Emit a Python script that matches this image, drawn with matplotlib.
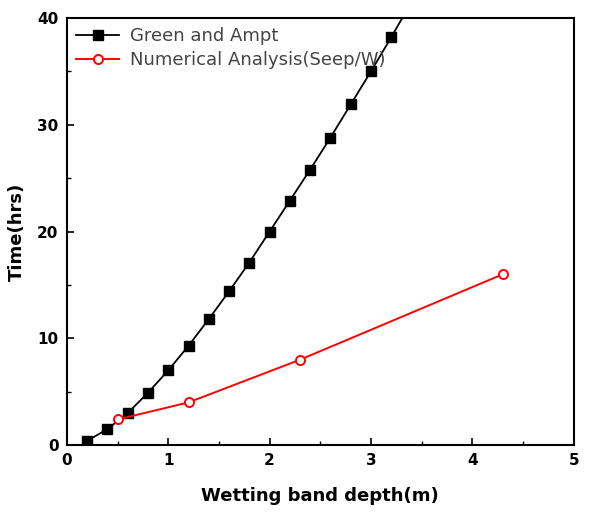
# Wetting band depth vs time: Green and Ampt vs Seep/W.

import matplotlib
matplotlib.use("Agg")
from matplotlib import pyplot as plt
from matplotlib.ticker import MultipleLocator

ga_depth = [0.2, 0.4, 0.6, 0.8, 1.0, 1.2, 1.4, 1.6, 1.8, 2.0, 2.2, 2.4, 2.6, 2.8, 3.0, 3.2, 3.4]
ga_time = [0.4, 1.5, 3.0, 4.9, 7.0, 9.3, 11.8, 14.4, 17.1, 20.0, 22.9, 25.8, 28.8, 31.9, 35.0, 38.2, 41.5]

num_depth = [0.5, 1.2, 2.3, 4.3]
num_time = [2.4, 4.0, 8.0, 16.0]

fig = plt.figure(figsize=(5.97, 5.14), dpi=100)
ax = fig.add_axes([0.112, 0.134, 0.849, 0.831])

ax.plot(ga_depth, ga_time, color="black", lw=1.3, marker="s", ms=6.5,
        label="Green and Ampt")
ax.plot(num_depth, num_time, color="red", lw=1.4, marker="o", ms=6.5,
        mfc="white", mec="red", mew=1.4, label="Numerical Analysis(Seep/W)")

ax.set_xlim(0, 5)
ax.set_ylim(0, 40)
ax.xaxis.set_major_locator(MultipleLocator(1))
ax.xaxis.set_minor_locator(MultipleLocator(0.5))
ax.yaxis.set_major_locator(MultipleLocator(10))
ax.yaxis.set_minor_locator(MultipleLocator(5))
ax.tick_params(which="both", direction="in", top=False, right=False)
ax.tick_params(which="major", length=5, width=1.2, pad=6)
ax.tick_params(which="minor", length=3, width=1.0)
for lab in ax.get_xticklabels() + ax.get_yticklabels():
    lab.set_fontweight("bold")
    lab.set_fontsize(11)
for s in ax.spines.values():
    s.set_linewidth(1.5)

ax.set_xlabel("Wetting band depth(m)", fontsize=13, fontweight="bold", labelpad=13)
ax.set_ylabel("Time(hrs)", fontsize=13, fontweight="bold", labelpad=8)

leg = ax.legend(loc="upper left", frameon=False, fontsize=13, handlelength=2.4,
                borderaxespad=0.1, labelspacing=0.35, handletextpad=0.6)
for t in leg.get_texts():
    t.set_color("#444444")

fig.savefig("out.png", dpi=100)
plt.close(fig)
